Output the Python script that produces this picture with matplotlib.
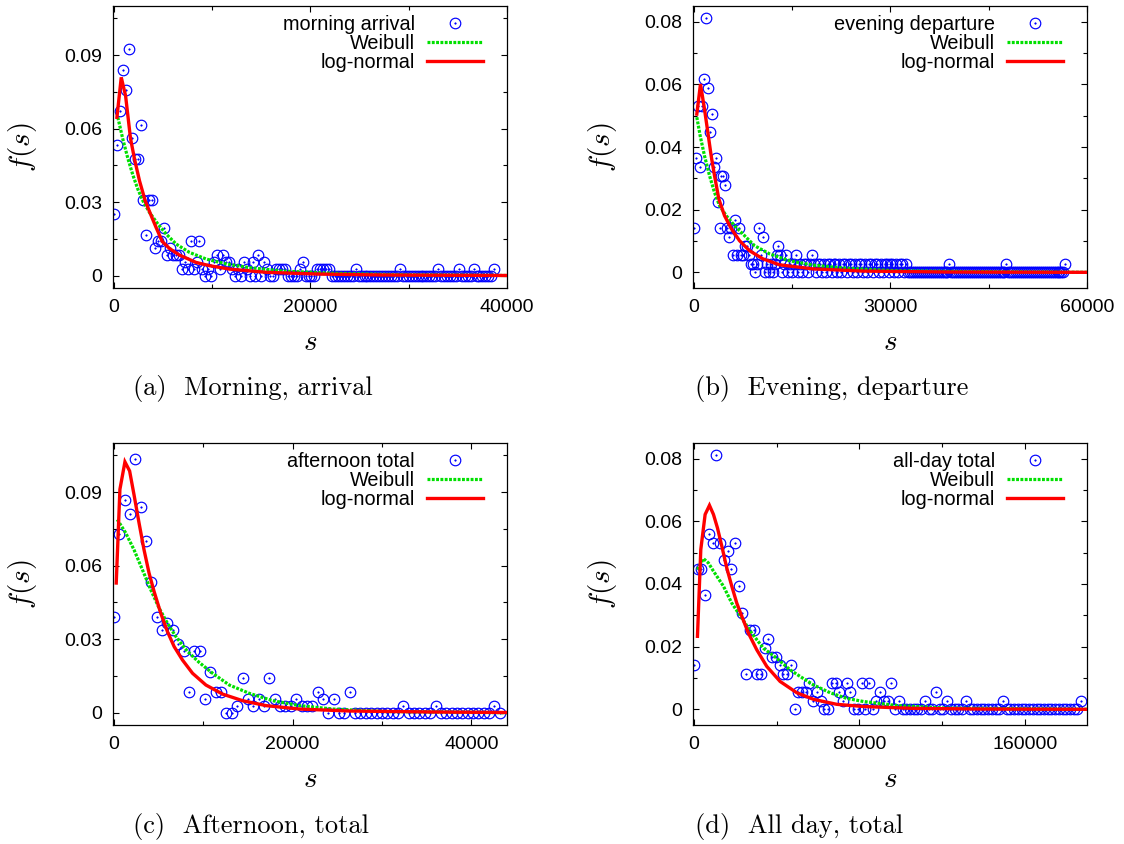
import numpy as np
import matplotlib
matplotlib.use("Agg")
import matplotlib.pyplot as plt

plt.rcParams['font.family'] = ['Liberation Sans', 'DejaVu Sans']
plt.rcParams['mathtext.fontset'] = 'cm'

# ---------------- data ----------------
N_TOTAL = 357  # number of samples; histogram fractions = counts / N_TOTAL

# (a) morning arrival
a_bin_width = 300
a_counts = [9, 19, 24, 30, 27, 33, 20, 17, 17, 22,
            11, 6, 11, 11, 4, 5, 5, 7, 3, 4,
            3, 3, 3, 1, 2, 1, 5, 1, 2, 5,
            1, 0, 1, 0, 2, 3, 1, 3, 2, 2,
            1, 0, 1, 0, 2, 1, 0, 2, 0, 3,
            0, 2, 1, 0, 0, 1, 1, 1, 1, 0,
            0, 0, 0, 1, 2, 0, 0, 0, 0, 1,
            1, 1, 1, 1, 0, 0, 0, 0, 0, 0,
            0, 0, 1, 0, 0, 0, 0, 0, 0, 0,
            0, 0, 0, 0, 0, 0, 0, 1, 0, 0,
            0, 0, 0, 0, 0, 0, 0, 0, 0, 0,
            1, 0, 0, 0, 0, 0, 0, 1, 0, 0,
            0, 0, 1, 0, 0, 0, 0, 0, 0, 1]
a_weib_s = [390, 900, 1409, 1919, 2428, 2937, 3616, 4465, 5314, 6333, 7691,
            9389, 11426, 13803, 17199, 22292, 29083, 40000]
a_weib_f = [0.0646, 0.0557, 0.0479, 0.0411, 0.0353, 0.0306, 0.0258, 0.0211,
            0.0170, 0.0129, 0.0095, 0.0068, 0.0048, 0.0033, 0.0019, 0.0010,
            0.0004, 0.0001]
a_logn_s = [300, 740, 1180, 1681, 2088, 2598, 3175, 3786, 4295, 4906, 5654,
            6672, 8370, 9729, 11766, 15501, 20594, 27385, 40000]
a_logn_f = [0.0646, 0.0809, 0.0734, 0.0560, 0.0476, 0.0387, 0.0306, 0.0245,
            0.0196, 0.0140, 0.0111, 0.0084, 0.0054, 0.0041, 0.0027, 0.0014,
            0.0007, 0.0003, 0.0001]

# (b) evening departure
b_bin_width = 300
b_counts = [5, 13, 19, 12, 19, 22, 29, 21, 16, 18,
            12, 13, 8, 5, 11, 11, 10, 5, 4, 5,
            2, 6, 2, 5, 2, 2, 3, 3, 2, 1,
            1, 0, 1, 5, 2, 4, 0, 1, 0, 1,
            0, 1, 2, 3, 2, 0, 1, 2, 0, 1,
            0, 1, 2, 0, 1, 0, 1, 1, 0, 1,
            2, 1, 0, 1, 1, 0, 1, 0, 1, 1,
            0, 1, 1, 0, 1, 0, 1, 1, 0, 1,
            1, 0, 1, 0, 1, 1, 0, 1, 0, 1,
            1, 0, 1, 1, 0, 1, 0, 1, 1, 0,
            1, 1, 0, 1, 0, 1, 1, 0, 1, 0,
            0, 0, 0, 0, 0, 0, 0, 0, 0, 0,
            0, 0, 0, 0, 0, 0, 0, 0, 0, 0,
            1, 0, 0, 0, 0, 0, 0, 0, 0, 0,
            0, 0, 0, 0, 0, 0, 0, 0, 0, 0,
            0, 0, 0, 0, 0, 0, 0, 0, 0, 1,
            0, 0, 0, 0, 0, 0, 0, 0, 0, 0,
            0, 0, 0, 0, 0, 0, 0, 0, 0, 0,
            0, 0, 0, 0, 0, 0, 0, 0, 0, 1]
b_weib_s = [433, 942, 1604, 2368, 3132, 3896, 4915, 6188, 7716, 9244, 11536,
            14592, 18157, 23250, 30889, 43621, 60000]
b_weib_f = [0.0495, 0.0436, 0.0372, 0.0309, 0.0255, 0.0213, 0.0181, 0.0149,
            0.0117, 0.0085, 0.0059, 0.0037, 0.0023, 0.0013, 0.0005, 0.0002,
            0.0000]
b_logn_s = [433, 993, 1604, 2114, 2623, 3132, 3794, 4660, 5679, 6952, 8480,
            10517, 13064, 18157, 25796, 38529, 60000]
b_logn_f = [0.0505, 0.0601, 0.0521, 0.0447, 0.0372, 0.0309, 0.0234, 0.0181,
            0.0140, 0.0101, 0.0069, 0.0043, 0.0024, 0.0011, 0.0004, 0.0001,
            0.0000]

# (c) afternoon total
c_bin_width = 600
c_counts = [14, 26, 31, 29, 37, 30, 25, 19, 14, 12,
            13, 12, 10, 9, 3, 9, 9, 2, 6, 3,
            3, 0, 0, 1, 5, 2, 1, 2, 1, 5,
            2, 1, 1, 1, 2, 1, 1, 1, 3, 2,
            0, 2, 0, 0, 3, 0, 0, 0, 0, 0,
            0, 0, 0, 0, 1, 0, 0, 0, 0, 0,
            1, 0, 0, 0, 0, 0, 0, 0, 0, 0,
            0, 1, 0]
c_weib_s = [375, 1311, 2247, 3183, 4120, 5056, 5992, 6928, 8239, 9550, 11048,
            12920, 15167, 17789, 20785, 24530, 30147, 44000]
c_weib_f = [0.0788, 0.0734, 0.0665, 0.0584, 0.0502, 0.0427, 0.0365, 0.0311,
            0.0250, 0.0205, 0.0161, 0.0113, 0.0079, 0.0049, 0.0029, 0.0015,
            0.0005, 0.0000]
c_logn_s = [262, 674, 1236, 1760, 2247, 2809, 3371, 3932, 4494, 5243, 5992,
            6741, 7677, 8801, 10299, 12171, 14418, 17040, 20785, 26402, 35765,
            44000]
c_logn_f = [0.0529, 0.0911, 0.1023, 0.0986, 0.0890, 0.0775, 0.0665, 0.0570,
            0.0495, 0.0406, 0.0331, 0.0270, 0.0215, 0.0161, 0.0113, 0.0076,
            0.0049, 0.0029, 0.0015, 0.0007, 0.0003, 0.0001]

# (d) all-day total
d_bin_width = 1800
d_counts = [5, 16, 16, 13, 20, 19, 29, 19, 17, 18,
            16, 19, 14, 11, 4, 9, 9, 4, 4, 7,
            8, 6, 6, 5, 4, 4, 5, 0, 2, 2,
            2, 3, 1, 2, 1, 0, 0, 3, 3, 2,
            1, 3, 2, 0, 0, 3, 0, 3, 0, 1,
            2, 1, 1, 3, 0, 1, 0, 0, 0, 0,
            0, 0, 1, 0, 0, 2, 0, 0, 1, 0,
            0, 0, 0, 1, 0, 0, 0, 0, 0, 0,
            0, 0, 0, 1, 0, 0, 0, 0, 0, 0,
            0, 0, 0, 0, 0, 0, 0, 0, 0, 0,
            0, 0, 0, 0, 1]
d_weib_s = [1659, 4559, 6975, 9392, 14225, 18253, 23086, 27919, 33557, 40001,
            46445, 51278, 57722, 65777, 73832, 81887, 97997, 122162, 190000]
d_weib_f = [0.0446, 0.0481, 0.0467, 0.0441, 0.0393, 0.0339, 0.0291, 0.0243,
            0.0195, 0.0163, 0.0126, 0.0105, 0.0078, 0.0053, 0.0035, 0.0025,
            0.0012, 0.0004, 0.0000]
d_logn_s = [1659, 3270, 5365, 7459, 9392, 11325, 13420, 15836, 18253, 20669,
            23086, 26308, 30335, 35168, 41612, 49667, 57722, 68999, 81887,
            106052, 138272, 190000]
d_logn_f = [0.0233, 0.0510, 0.0622, 0.0651, 0.0622, 0.0579, 0.0521, 0.0451,
            0.0393, 0.0339, 0.0297, 0.0243, 0.0190, 0.0137, 0.0089, 0.0053,
            0.0032, 0.0016, 0.0009, 0.0003, 0.0001, 0.0000]

# ticks
xt_a = [0, 20000, 40000];   xtl_a = ['0', '20000', '40000'];   xm_a = [10000, 30000]
xt_b = [0, 30000, 60000];   xtl_b = ['0', '30000', '60000'];   xm_b = [15000, 45000]
xt_c = [0, 20000, 40000];   xtl_c = ['0', '20000', '40000'];   xm_c = [10000, 30000]
xt_d = [0, 80000, 160000];  xtl_d = ['0', '80000', '160000'];  xm_d = [40000, 120000]
yt_03 = [0, 0.03, 0.06, 0.09]; ytl_03 = ['0', '0.03', '0.06', '0.09']
ym_03 = [0.015, 0.045, 0.075, 0.105]
yt_02 = [0, 0.02, 0.04, 0.06, 0.08]; ytl_02 = ['0', '0.02', '0.04', '0.06', '0.08']
ym_02 = [0.01, 0.03, 0.05, 0.07]

panels = [
    dict(counts=a_counts, w=a_bin_width, ws=a_weib_s, wf=a_weib_f, ls=a_logn_s, lf=a_logn_f,
         label='morning arrival', cap='(a)  Morning, arrival',
         xt=xt_a, xtl=xtl_a, xm=xm_a, yt=yt_03, ytl=ytl_03, ym=ym_03,
         xlim=(-100, 40000), ylim=(-0.005, 0.11), pos=(113, 288), cappos=(133, 388)),
    dict(counts=b_counts, w=b_bin_width, ws=b_weib_s, wf=b_weib_f, ls=b_logn_s, lf=b_logn_f,
         label='evening departure', cap='(b)  Evening, departure',
         xt=xt_b, xtl=xtl_b, xm=xm_b, yt=yt_02, ytl=ytl_02, ym=ym_02,
         xlim=(-150, 60000), ylim=(-0.005, 0.085), pos=(693, 288), cappos=(695, 388)),
    dict(counts=c_counts, w=c_bin_width, ws=c_weib_s, wf=c_weib_f, ls=c_logn_s, lf=c_logn_f,
         label='afternoon total', cap='(c)  Afternoon, total',
         xt=xt_c, xtl=xtl_c, xm=xm_c, yt=yt_03, ytl=ytl_03, ym=ym_03,
         xlim=(-100, 44000), ylim=(-0.005, 0.11), pos=(113, 725), cappos=(133, 826)),
    dict(counts=d_counts, w=d_bin_width, ws=d_weib_s, wf=d_weib_f, ls=d_logn_s, lf=d_logn_f,
         label='all-day total', cap='(d)  All day, total',
         xt=xt_d, xtl=xtl_d, xm=xm_d, yt=yt_02, ytl=ytl_02, ym=ym_02,
         xlim=(-500, 190000), ylim=(-0.005, 0.085), pos=(693, 725), cappos=(695, 826)),
]

W, H = 1124, 844
fig = plt.figure(figsize=(W / 100, H / 100), dpi=100)

BLUE = '#0000ff'
GREEN = '#00e000'
RED = '#ff0000'
TICK_FS = 14
LEG_FS = 14.3

for p in panels:
    left, bottom = p['pos']
    ax = fig.add_axes([left / W, (H - bottom) / H, 394 / W, 282 / H])
    counts = np.array(p['counts'], dtype=float)
    s = np.arange(len(counts)) * p['w']
    f = counts / N_TOTAL

    circ, = ax.plot(s, f, linestyle='none', marker='o', ms=7.6, mfc='none',
                    mec=BLUE, mew=0.85, zorder=2)
    dot, = ax.plot(s, f, linestyle='none', marker='o', ms=1.2, mfc=BLUE,
                   mec=BLUE, mew=0.3, zorder=2)
    wl, = ax.plot(p['ws'], p['wf'], color=GREEN, lw=2.3, dashes=(0.9, 0.45),
                  dash_capstyle='butt', zorder=3)
    ll, = ax.plot(p['ls'], p['lf'], color=RED, lw=2.4, zorder=4,
                  solid_joinstyle='miter')

    ax.set_xlim(*p['xlim'])
    ax.set_ylim(*p['ylim'])
    ax.set_xticks(p['xt'])
    ax.set_xticklabels(p['xtl'])
    ax.set_xticks(p['xm'], minor=True)
    ax.set_yticks(p['yt'])
    ax.set_yticklabels(p['ytl'])
    ax.set_yticks(p['ym'], minor=True)
    ax.tick_params(which='both', direction='in', top=True, right=True,
                   width=0.8, labelsize=TICK_FS)
    ax.tick_params(which='major', length=4.5)
    ax.tick_params(which='minor', length=3)
    ax.tick_params(axis='x', which='major', pad=8)
    ax.tick_params(axis='y', which='major', pad=8)
    for sp in ax.spines.values():
        sp.set_linewidth(0.9)

    ax.set_xlabel(r'$s$', fontsize=21)
    ax.xaxis.label.set_va('center')
    ax.xaxis.set_label_coords(0.5, -0.19)
    ax.set_ylabel(r'$f(s)$', fontsize=21)
    ax.yaxis.label.set_va('center')
    ax.yaxis.set_label_coords(-0.23, 0.5)

    ax.legend([(circ, dot), wl, ll], [p['label'], 'Weibull', 'log-normal'],
              loc='upper right', bbox_to_anchor=(0.939, 0.968),
              markerfirst=False, frameon=False,
              fontsize=LEG_FS, handlelength=2.8, handletextpad=0.63,
              labelspacing=0.0, borderaxespad=0.0, borderpad=0.0,
              numpoints=1)

    cx, cy = p['cappos']
    fig.text(cx / W, (H - cy) / H, p['cap'], fontfamily='cmr10', fontsize=19,
             ha='left', va='center')

fig.savefig('out.png', dpi=100)
